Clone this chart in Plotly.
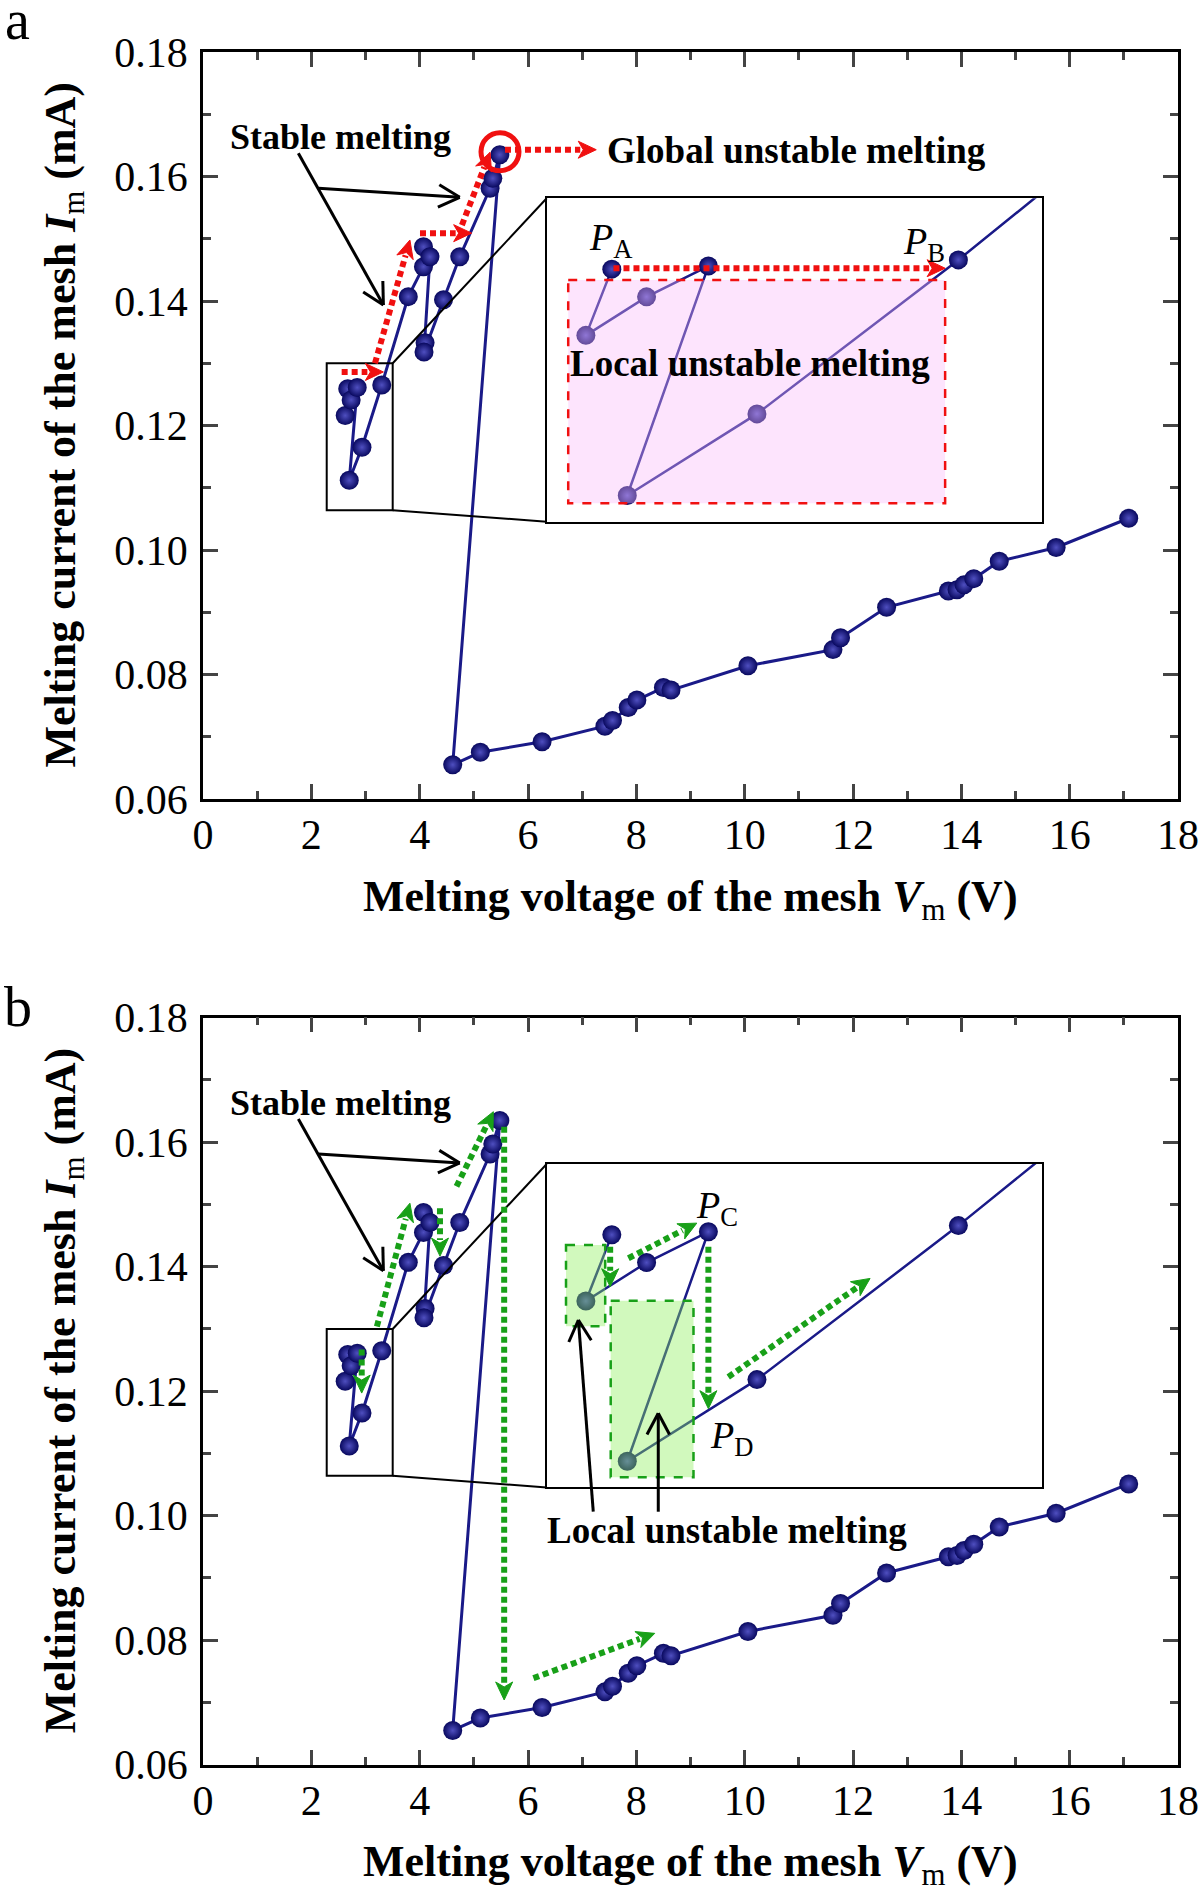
import math
import plotly.graph_objects as go

# ---------------- data ----------------
V_m = [2.672, 2.625, 2.735, 2.847, 2.700, 2.935, 3.300, 3.79, 4.07, 4.07, 4.19, 4.10, 4.08, 4.44, 4.74,
       5.30, 5.35, 5.48,
       4.61, 5.12, 6.26, 7.42, 7.56, 7.85, 8.01, 8.50, 8.64, 10.06, 11.63, 11.77, 12.62, 13.76, 13.92,
       14.05, 14.23, 14.70, 15.75, 17.09]
I_m = [0.1259, 0.1216, 0.1241, 0.1261, 0.1112, 0.1165, 0.1265, 0.1407, 0.1455, 0.1487, 0.1471, 0.1333,
       0.1318, 0.1402, 0.1471, 0.1581, 0.1597, 0.1635,
       0.0655, 0.0675, 0.0692, 0.0717, 0.0726, 0.0747, 0.0759, 0.0779, 0.0775, 0.0814, 0.0840, 0.0859,
       0.0908, 0.0934, 0.0936, 0.0944, 0.0954, 0.0982, 0.1004, 0.1051]
x_ticks = [0, 2, 4, 6, 8, 10, 12, 14, 16, 18]
y_ticks = [0.06, 0.08, 0.10, 0.12, 0.14, 0.16, 0.18]
x_range = [0, 18]
y_range = [0.06, 0.18]
inset_x_range = [2.554, 3.451]
inset_y_range = [0.1095, 0.1305]
zoom_box_x = [2.284, 3.502]
zoom_box_y = [0.1064, 0.1300]

# ---------------- layout geometry (target pixels in the 1200x1899 page) ----------------
PAGE_W, PAGE_H = 1200, 1899
O = 0                      # body margin is removed by the post script below
FW, FH = PAGE_W - 2 * O, PAGE_H - 2 * O
OFF = 965.7
MAIN = [dict(x0=203, x1=1178, y0=52, y1=799), dict(x0=203, x1=1178, y0=52 + OFF, y1=799 + OFF)]
INSET = [dict(x0=546.7, x1=1041.7, y0=198.3, y1=521.7),
         dict(x0=546.7, x1=1041.7, y0=198.3 + OFF, y1=521.7 + OFF)]

FONT = "Liberation Serif"
NAVY = "#08085e"
LINE = "#1a1a88"
RED = "#f01010"
GREEN = "#18a018"


def d2p(box, xr, yr, x, y):
    px = box["x0"] + (x - xr[0]) / (xr[1] - xr[0]) * (box["x1"] - box["x0"])
    py = box["y1"] - (y - yr[0]) / (yr[1] - yr[0]) * (box["y1"] - box["y0"])
    return px, py


def main_p(k, x, y):
    return d2p(MAIN[k], x_range, y_range, x, y)


def ins_p(k, x, y):
    return d2p(INSET[k], inset_x_range, inset_y_range, x, y)


def px2x(px):
    return (px - O) / FW


def py2y(py):
    return 1 - (py - O) / FH


def pp(p):
    return px2x(p[0]), py2y(p[1])


shapes = []
annotations = []


def line_shape(p0, p1, color, width, dash=None):
    a, b = pp(p0), pp(p1)
    ln = dict(color=color, width=width)
    if dash:
        ln["dash"] = dash
    shapes.append(dict(type="line", xref="paper", yref="paper", x0=a[0], y0=a[1], x1=b[0], y1=b[1],
                       line=ln, layer="above"))


def dotted_arrow(p0, p1, color, width=6, head_len=18, head_w=17):
    dx, dy = p1[0] - p0[0], p1[1] - p0[1]
    L = math.hypot(dx, dy)
    ux, uy = dx / L, dy / L
    base = (p1[0] - ux * head_len, p1[1] - uy * head_len)
    line_shape(p0, (base[0] + ux * 2, base[1] + uy * 2), color, width, dash="6px,4px")
    nx, ny = -uy, ux
    c1 = (base[0] + nx * head_w / 2, base[1] + ny * head_w / 2)
    c2 = (base[0] - nx * head_w / 2, base[1] - ny * head_w / 2)
    pts = [pp(p1), pp(c1), pp((base[0] + ux * 5, base[1] + uy * 5)), pp(c2)]
    path = "M {} {} L {} {} L {} {} L {} {} Z".format(*[v for q in pts for v in q])
    shapes.append(dict(type="path", xref="paper", yref="paper", path=path,
                       fillcolor=color, line=dict(color=color, width=1), layer="above"))


def open_arrow(p0, p1, color="black", width=3, arm=24, ang=28):
    line_shape(p0, p1, color, width)
    dx, dy = p1[0] - p0[0], p1[1] - p0[1]
    L = math.hypot(dx, dy)
    vx, vy = -dx / L, -dy / L
    for s in (1, -1):
        a = math.radians(ang * s)
        rx = vx * math.cos(a) - vy * math.sin(a)
        ry = vx * math.sin(a) + vy * math.cos(a)
        line_shape(p1, (p1[0] + rx * arm, p1[1] + ry * arm), color, width)


def rect_shape(p0, p1, line_color, width, fill=None, dash=None):
    a, b = pp(p0), pp(p1)
    ln = dict(color=line_color, width=width)
    if dash:
        ln["dash"] = dash
    d = dict(type="rect", xref="paper", yref="paper", x0=a[0], y0=a[1], x1=b[0], y1=b[1],
             line=ln, layer="above")
    if fill:
        d["fillcolor"] = fill
    shapes.append(d)


def text(p, s, size=36, color="black", **kw):
    a = pp(p)
    annotations.append(dict(xref="paper", yref="paper", x=a[0], y=a[1], text=s, showarrow=False,
                            font=dict(family=FONT, size=size, color=color), xanchor="center",
                            yanchor="middle", **kw))


fig = go.Figure()

marker = dict(size=19, color=NAVY, gradient=dict(type="radial", color="#4f4fc0"), line=dict(width=0))

for k in range(2):
    xa = "x" if k == 0 else "x2"
    ya = "y" if k == 0 else "y2"
    xi = "x3" if k == 0 else "x4"
    yi = "y3" if k == 0 else "y4"
    fig.add_trace(go.Scatter(x=V_m, y=I_m, mode="lines+markers", xaxis=xa, yaxis=ya,
                             line=dict(color=LINE, width=3), marker=marker, showlegend=False))
    fig.add_trace(go.Scatter(x=V_m, y=I_m, mode="lines+markers", xaxis=xi, yaxis=yi,
                             line=dict(color=LINE, width=2.5), marker=marker, showlegend=False))

axis_common = dict(showline=True, linecolor="black", linewidth=2.5, mirror="ticks", ticks="inside",
                   tickwidth=2.5, ticklen=15, showgrid=False, zeroline=False, automargin=False,
                   ticklabeloverflow="allow",
                   tickfont=dict(family=FONT, size=42, color="black"))
layout = dict(width=FW, height=FH, margin=dict(l=0, r=0, t=0, b=0, pad=0), plot_bgcolor="white",
              paper_bgcolor="white", showlegend=False, template="none")

for k in range(2):
    m = MAIN[k]
    xname = "xaxis" if k == 0 else "xaxis2"
    yname = "yaxis" if k == 0 else "yaxis2"
    layout[xname] = dict(axis_common, domain=[px2x(m["x0"]), px2x(m["x1"])], range=x_range,
                         tickvals=x_ticks, anchor="y" if k == 0 else "y2",
                         minor=dict(dtick=1, ticks="inside", ticklen=8, tickwidth=2.5, showgrid=False),
                         ticklabelstandoff=-3)
    layout[yname] = dict(axis_common, domain=[py2y(m["y1"]), py2y(m["y0"])], range=y_range,
                         tickvals=y_ticks, tickformat=".2f", anchor="x" if k == 0 else "x2",
                         minor=dict(dtick=0.01, ticks="inside", ticklen=8, tickwidth=2.5, showgrid=False),
                         ticklabelstandoff=4)
    ib = INSET[k]
    xi = "xaxis3" if k == 0 else "xaxis4"
    yi = "yaxis3" if k == 0 else "yaxis4"
    layout[xi] = dict(domain=[px2x(ib["x0"]), px2x(ib["x1"])], range=inset_x_range, showline=True,
                      linecolor="black", linewidth=2, mirror=True, ticks="", showticklabels=False,
                      showgrid=False, zeroline=False, automargin=False, anchor="y3" if k == 0 else "y4")
    layout[yi] = dict(domain=[py2y(ib["y1"]), py2y(ib["y0"])], range=inset_y_range, showline=True,
                      linecolor="black", linewidth=2, mirror=True, ticks="", showticklabels=False,
                      showgrid=False, zeroline=False, automargin=False, anchor="x3" if k == 0 else "x4")

    # zoom box in the main panel and connectors to the inset
    b0 = main_p(k, zoom_box_x[0], zoom_box_y[1])
    b1 = main_p(k, zoom_box_x[1], zoom_box_y[0])
    rect_shape(b0, b1, "black", 2)
    line_shape((b1[0], b0[1]), (ib["x0"], ib["y0"]), "black", 2)
    line_shape((b1[0], b1[1]), (ib["x0"], ib["y1"]), "black", 2)

    # Stable melting label and arrows
    text(main_p(k, 2.53, 0.1663), "<b>Stable melting</b>")
    open_arrow(main_p(k, 1.76, 0.16373), main_p(k, 3.33, 0.13936))
    open_arrow(main_p(k, 2.13, 0.15811), main_p(k, 4.74, 0.15666))

    # axis titles
    cy = (m["y0"] + m["y1"]) / 2
    cx = (m["x0"] + m["x1"]) / 2
    text((cx, m["y1"] + 100), "<b>Melting voltage of the mesh <i>V</i></b><sub>m</sub><b> (V)</b>", size=44)
    text((63, cy), "<b>Melting current of the mesh <i>I</i></b><sub>m</sub><b> (mA)</b>", size=44,
         textangle=-90)

# ---------------- panel a decorations ----------------
text((17, 20), "a", size=56)
dotted_arrow(main_p(0, 2.56, 0.1286), main_p(0, 3.33, 0.1286), RED)
dotted_arrow(main_p(0, 3.175, 0.1300), main_p(0, 3.82, 0.1498), RED)
dotted_arrow(main_p(0, 4.006, 0.1509), main_p(0, 4.96, 0.1509), RED)
dotted_arrow(main_p(0, 4.78, 0.1522), main_p(0, 5.30, 0.1639), RED)
dotted_arrow(main_p(0, 5.575, 0.1643), main_p(0, 7.26, 0.1643), RED)
cc = main_p(0, 5.483, 0.16398)
r = 19
a0, a1 = pp((cc[0] - r, cc[1] - r)), pp((cc[0] + r, cc[1] + r))
shapes.append(dict(type="circle", xref="paper", yref="paper", x0=a0[0], y0=a0[1], x1=a1[0], y1=a1[1],
                   line=dict(color=RED, width=5), layer="above"))
text((796, 150), "<b>Global unstable melting</b>", size=37)

# inset a
rect_shape(ins_p(0, 2.593, 0.1252), ins_p(0, 3.276, 0.1107), RED, 2.5,
           fill="rgba(250,185,250,0.38)", dash="dash")
dotted_arrow(ins_p(0, 2.675, 0.12596), ins_p(0, 3.276, 0.12596), RED)
text((611, 240), "<i>P</i><sub>A</sub>", size=38)
text((924, 244), "<i>P</i><sub>B</sub>", size=38)
text((750, 363), "<b>Local unstable melting</b>", size=37)

# ---------------- panel b decorations ----------------
text((18, 1007), "b", size=56)
dotted_arrow(main_p(1, 2.93, 0.1267), main_p(1, 2.93, 0.1197), GREEN)
dotted_arrow(main_p(1, 3.21, 0.1304), main_p(1, 3.82, 0.1502), GREEN)
dotted_arrow(main_p(1, 4.375, 0.1494), main_p(1, 4.375, 0.1417), GREEN)
dotted_arrow(main_p(1, 4.68, 0.1529), main_p(1, 5.36, 0.1649), GREEN)
dotted_arrow(main_p(1, 5.56, 0.1625), main_p(1, 5.56, 0.0704), GREEN)
dotted_arrow(main_p(1, 6.10, 0.0739), main_p(1, 8.34, 0.0811), GREEN)

# inset b
GFILL = "rgba(140,240,90,0.4)"
rect_shape(ins_p(1, 2.589, 0.12524), ins_p(1, 2.660, 0.11997), GREEN, 2.5, fill=GFILL, dash="dash")
rect_shape(ins_p(1, 2.670, 0.12162), ins_p(1, 2.820, 0.11016), GREEN, 2.5, fill=GFILL, dash="dash")
dotted_arrow(ins_p(1, 2.669, 0.12513), ins_p(1, 2.669, 0.12253), GREEN)
dotted_arrow(ins_p(1, 2.702, 0.12438), ins_p(1, 2.826, 0.12666), GREEN)
dotted_arrow(ins_p(1, 2.847, 0.12513), ins_p(1, 2.847, 0.11461), GREEN)
dotted_arrow(ins_p(1, 2.883, 0.11667), ins_p(1, 3.140, 0.12307), GREEN)
text((716.7, 1208), "<i>P</i><sub>C</sub>", size=38)
text((731.7, 1438), "<i>P</i><sub>D</sub>", size=38)
text((726.5, 1530), "<b>Local unstable melting</b>", size=37)
open_arrow(main_p(1, 7.205, 0.10064), main_p(1, 6.93, 0.13144))
open_arrow(main_p(1, 8.405, 0.10064), main_p(1, 8.405, 0.11645))

layout["shapes"] = shapes
layout["annotations"] = annotations
fig.update_layout(**layout)
fig.write_html("out.html", config=dict(displayModeBar=False),
               post_script="document.body.style.margin='0';document.body.style.overflow='hidden';")
